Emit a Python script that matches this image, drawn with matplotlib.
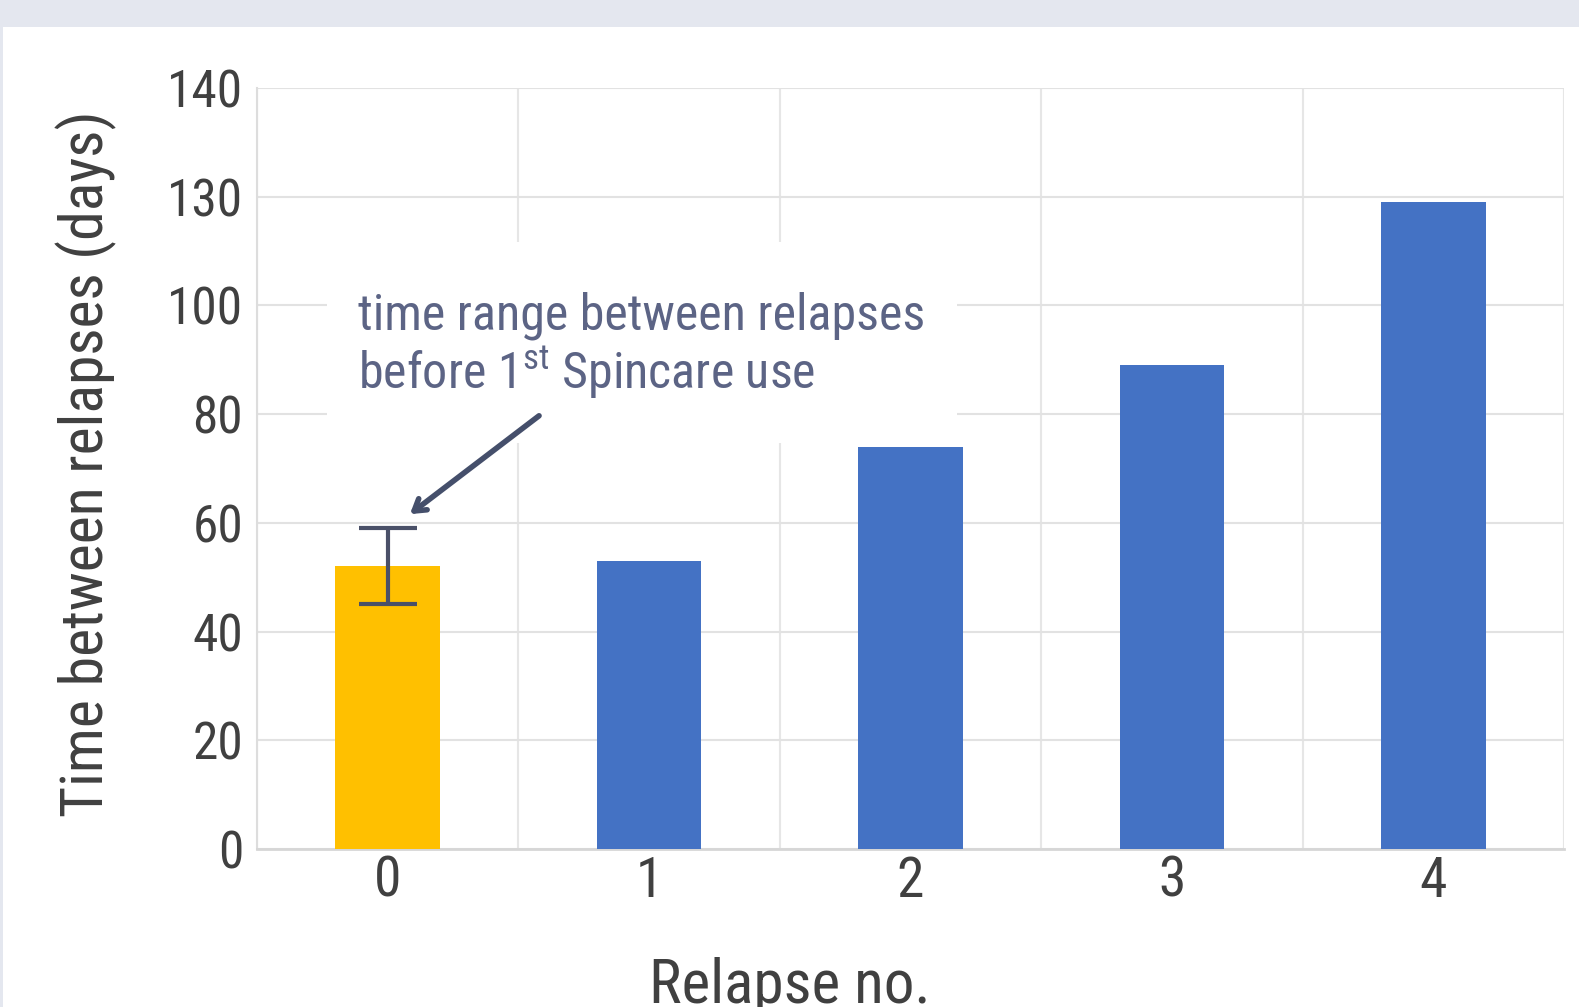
import matplotlib.pyplot as plt
from matplotlib.patches import Rectangle
import numpy as np

# data (heights read in axis units)
relapse_no = [0, 1, 2, 3, 4]
days = [52, 53, 74, 89, 119]
bar_colors = ['#ffc000', '#4472c4', '#4472c4', '#4472c4', '#4472c4']
err_low, err_high = 45, 59
ytick_pos = [0, 20, 40, 60, 80, 100, 120, 140]
ytick_labels = ['0', '20', '40', '60', '80', '100', '130', '140']

# narrow sans, with fallbacks
plt.rcParams['font.family'] = ['Roboto Condensed', 'Liberation Sans Narrow', 'Archivo Narrow',
                               'Liberation Sans', 'DejaVu Sans']
plt.rcParams['mathtext.fontset'] = 'custom'
plt.rcParams['mathtext.rm'] = 'Roboto Condensed'

W, H = 1579, 1007
fig = plt.figure(figsize=(W / 100, H / 100), dpi=100, facecolor='#e4e7ef')
# white panel under the grey band
fig.patches.append(Rectangle((3 / W, 0), 1, 1 - 27 / H, transform=fig.transFigure,
                             facecolor='white', edgecolor='none', zorder=-1))

ax = fig.add_axes([257 / W, 1 - 849 / H, (1564 - 257) / W, (849 - 88) / H])
ax.set_zorder(1)
ax.set_facecolor('white')

ax.bar(relapse_no, days, width=0.4, color=bar_colors, zorder=3)
mid = (err_low + err_high) / 2
ax.errorbar([relapse_no[0]], [mid], yerr=[[mid - err_low], [err_high - mid]],
            fmt='none', ecolor='#4a5068', elinewidth=3, capsize=21, capthick=3, zorder=4)

ax.set_xlim(-0.5, 4.5)
ax.set_ylim(0, 140)
ax.set_yticks(ytick_pos)
ax.set_yticklabels(ytick_labels)
ax.set_xticks(relapse_no)
ax.set_xticks(np.arange(-0.5, 5, 1), minor=True)
ax.tick_params(axis='both', which='both', length=0)
ax.tick_params(axis='y', labelsize=37, labelcolor='#404040', pad=10)
ax.tick_params(axis='x', labelsize=40, labelcolor='#404040', pad=4)
ax.grid(axis='y', color='#e2e2e2', lw=1.5, zorder=0)
ax.grid(axis='x', which='minor', color='#e6e6e6', lw=1.5, zorder=0)
for s in ['top', 'right']:
    ax.spines[s].set_visible(False)
ax.spines['left'].set_color('#dddddd')
ax.spines['bottom'].set_color('#d6d6d6')
ax.spines['left'].set_linewidth(1.5)
ax.spines['bottom'].set_linewidth(2)

# white box behind the annotation (covers the grid)
ax.add_patch(Rectangle((327 / W, 1 - 443 / H), (957 - 327) / W, (443 - 242) / H,
                       transform=fig.transFigure, facecolor='white', edgecolor='none',
                       zorder=2, clip_on=False))

txt_color = '#5c6485'
ax.text(-0.114, 95.5, 'time range between relapses', fontsize=36, color=txt_color,
        va='baseline', ha='left', zorder=6)
ax.text(-0.114, 84.6, r'before 1$^{\mathrm{st}}$ Spincare use', fontsize=36, color=txt_color,
        va='baseline', ha='left', zorder=6)
ax.annotate('', xy=(0.085, 61.6), xytext=(0.579, 79.7),
            arrowprops=dict(arrowstyle='->, head_length=0.8, head_width=0.5', lw=4,
                            color='#454f6b', shrinkA=0, shrinkB=0), zorder=6)

fig.text(86 / W, 1 - 464 / H, 'Time between relapses (days)', rotation=90, fontsize=43,
         color='#404040', ha='center', va='center')
fig.text(790 / W, 4 / H, 'Relapse no.', fontsize=44, color='#404040', ha='center', va='baseline')

plt.savefig('out.png', dpi=100, facecolor=fig.get_facecolor())
